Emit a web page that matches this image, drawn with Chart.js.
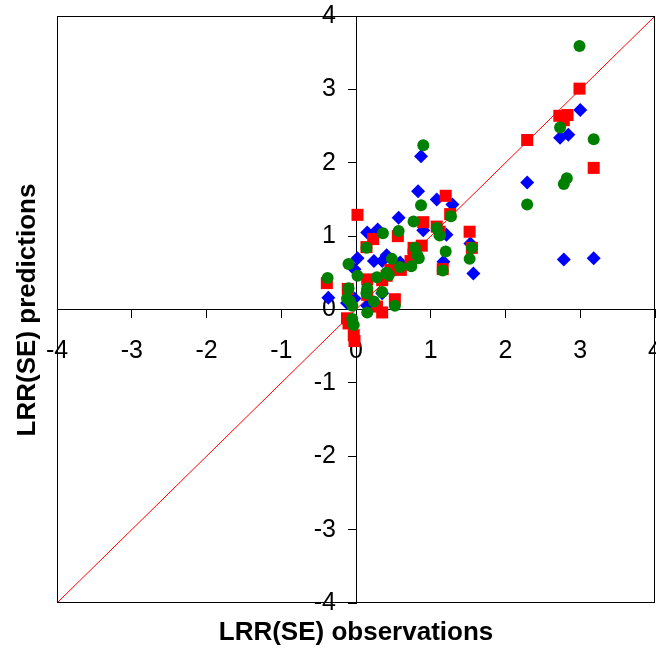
<!DOCTYPE html>
<html>
<head>
<meta charset="utf-8">
<script src="https://cdn.jsdelivr.net/npm/chart.js@4.4.1/dist/chart.umd.min.js"></script>
<style>
  html, body { margin: 0; padding: 0; background: #fff; }
  #wrap { width: 656px; height: 652px; }
</style>
</head>
<body>
<div id="wrap"><canvas id="chart" width="656" height="652"></canvas></div>
<script>
// Axis range and ticks
const axisMin = -4;
const axisMax = 4;
const xTitle = 'LRR(SE) observations';
const yTitle = 'LRR(SE) predictions';

// 1:1 reference line
const refLineX = [-4, 4];
const refLineY = [-4, 4];

// Blue diamonds
const blueX = [-0.37, -0.12, -0.02, 0.02, -0.02, 0.15, 0.29, 0.24, 0.35, 0.41, 0.35, 0.15, 0.57, 0.59, 0.83, 0.87, 0.90, 1.08, 1.29, 1.21, 1.17, 1.53, 1.57, 2.29, 2.73, 2.84, 3.00, 2.78, 3.18];
const blueY = [0.16, 0.09, 0.15, 0.70, 0.55, 1.05, 1.09, 0.66, 0.66, 0.74, 0.22, 0.05, 1.25, 0.64, 1.61, 2.09, 1.08, 1.50, 1.43, 1.02, 0.65, 0.90, 0.49, 1.73, 2.34, 2.38, 2.72, 0.68, 0.70];

// Red squares
const redX = [-0.39, -0.11, -0.12, -0.10, -0.03, -0.02, 0.02, 0.14, 0.23, 0.15, 0.15, 0.28, 0.35, 0.35, 0.41, 0.46, 0.52, 0.56, 0.60, 0.73, 0.77, 0.77, 0.88, 0.90, 1.08, 1.12, 1.20, 1.26, 1.16, 1.52, 1.55, 2.29, 2.72, 2.83, 2.78, 2.99, 3.18];
const redY = [0.36, 0.28, -0.12, -0.19, -0.35, -0.43, 1.29, 0.85, 0.96, 0.41, 0.20, 0.04, -0.04, 0.40, 0.46, 0.54, 0.14, 1.00, 0.54, 0.66, 0.75, 0.84, 0.87, 1.19, 1.13, 1.06, 1.55, 1.30, 0.55, 1.06, 0.84, 2.31, 2.64, 2.65, 2.58, 3.01, 1.93];

// Green circles
const greenX = [-0.38, -0.10, -0.10, -0.12, -0.08, -0.05, -0.05, -0.03, 0.02, 0.14, 0.15, 0.14, 0.15, 0.24, 0.28, 0.36, 0.35, 0.41, 0.44, 0.48, 0.52, 0.57, 0.59, 0.74, 0.77, 0.79, 0.82, 0.84, 0.87, 0.90, 1.08, 1.12, 1.20, 1.16, 1.27, 1.55, 1.52, 2.29, 2.73, 2.78, 2.82, 2.99, 3.18];
const greenY = [0.43, 0.62, 0.29, 0.15, 0.11, 0.05, -0.13, -0.21, 0.46, 0.84, 0.29, 0.22, -0.04, 0.11, 0.44, 1.04, 0.24, 0.50, 0.47, 0.69, 0.05, 1.07, 0.58, 0.59, 1.20, 0.84, 0.74, 0.70, 1.42, 2.24, 1.11, 1.01, 0.79, 0.53, 1.27, 0.84, 0.69, 1.43, 2.48, 1.71, 1.79, 3.59, 2.32];

const toPoints = (xs, ys) => xs.map((x, i) => ({ x: x, y: ys[i] }));

const fontFamily = "'Liberation Sans', Arial, sans-serif";

// y labels of an axis placed at x=0 sit flush on the axis line; move them left of the ticks
const yLabelShift = {
  id: 'yLabelShift',
  beforeDraw(chart) {
    const s = chart.scales.y;
    s.getLabelItems(chart.chartArea).forEach(item => {
      if (!item._shifted) {
        item.options.translation[0] -= 20;
        item._shifted = true;
      }
    });
  }
};

// Frame round the plot area and the two axis titles
const framePlugin = {
  id: 'frame',
  afterDraw(chart) {
    const { ctx, chartArea: a } = chart;
    ctx.save();
    ctx.strokeStyle = '#000';
    ctx.lineWidth = 1;
    ctx.strokeRect(a.left + 0.5, a.top + 0.5, a.right - a.left - 1, a.bottom - a.top - 1);

    ctx.fillStyle = '#000';
    ctx.font = 'bold 26px ' + fontFamily;
    ctx.textAlign = 'center';
    ctx.textBaseline = 'middle';
    ctx.fillText(xTitle, 356, 633);

    ctx.translate(28, 310);
    ctx.rotate(-Math.PI / 2);
    ctx.fillText(yTitle, 0, 0);
    ctx.restore();
  }
};

const tickOpts = {
  stepSize: 1,
  autoSkip: false,
  maxRotation: 0,
  color: '#000',
  font: { family: fontFamily, size: 25 }
};

// keep the end labels from pushing the plot area inwards
const noScalePadding = (s) => {
  s.paddingLeft = 0;
  s.paddingRight = 0;
  s.paddingTop = 0;
  s.paddingBottom = 0;
};

new Chart(document.getElementById('chart').getContext('2d'), {
  type: 'scatter',
  data: {
    datasets: [
      {
        label: 'green',
        data: toPoints(greenX, greenY),
        pointStyle: 'circle',
        pointRadius: 6,
        pointHoverRadius: 6,
        backgroundColor: '#008000',
        borderColor: '#008000',
        borderWidth: 0,
        order: 1
      },
      {
        label: 'red',
        data: toPoints(redX, redY),
        pointStyle: 'rect',
        pointRadius: 8.5,
        pointHoverRadius: 8.5,
        backgroundColor: '#ff0000',
        borderColor: '#ff0000',
        borderWidth: 0,
        order: 2
      },
      {
        label: 'blue',
        data: toPoints(blueX, blueY),
        pointStyle: 'rectRot',
        pointRadius: 7,
        pointHoverRadius: 7,
        backgroundColor: '#0000ff',
        borderColor: '#0000ff',
        borderWidth: 0,
        order: 3
      },
      {
        label: '1:1',
        data: toPoints(refLineX, refLineY),
        showLine: true,
        borderColor: '#ff0000',
        borderWidth: 1,
        pointRadius: 0,
        fill: false,
        order: 4
      }
    ]
  },
  options: {
    responsive: false,
    animation: false,
    events: [],
    layout: { autoPadding: false, padding: { left: 57, top: 16, right: 1, bottom: 49 } },
    plugins: {
      legend: { display: false },
      tooltip: { enabled: false }
    },
    scales: {
      x: {
        type: 'linear',
        position: { y: 0 },
        min: axisMin,
        max: axisMax,
        grid: { drawOnChartArea: false, drawTicks: true, tickLength: 8, color: '#000' },
        border: { display: true, color: '#000', width: 1 },
        ticks: Object.assign({ padding: 19 }, tickOpts),
        afterFit: noScalePadding
      },
      y: {
        type: 'linear',
        position: { x: 0 },
        min: axisMin,
        max: axisMax,
        grid: { drawOnChartArea: false, drawTicks: true, tickLength: 8, color: '#000' },
        border: { display: true, color: '#000', width: 1 },
        ticks: Object.assign({ padding: 14 }, tickOpts),
        afterFit: noScalePadding
      }
    }
  },
  plugins: [yLabelShift, framePlugin]
});
</script>
</body>
</html>
